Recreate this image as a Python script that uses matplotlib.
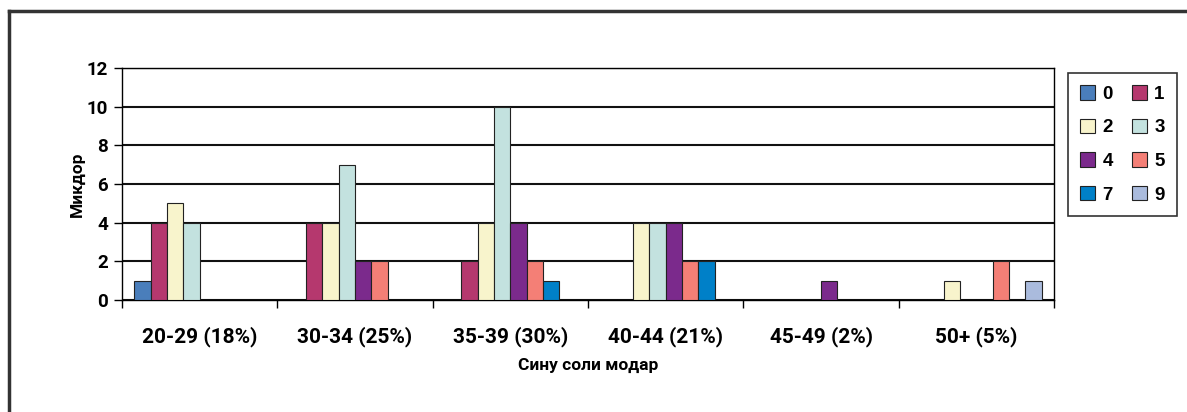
import numpy as np
import matplotlib.pyplot as plt
from matplotlib.lines import Line2D

# Age groups and counts per series (number of children)
groups = ['20-29 (18%)', '30-34 (25%)', '35-39 (30%)', '40-44 (21%)', '45-49 (2%)', '50+ (5%)']
series_names = ['0', '1', '2', '3', '4', '5', '7', '9']
s0 = [1, 0, 0, 0, 0, 0]
s1 = [4, 4, 2, 0, 0, 0]
s2 = [5, 4, 4, 4, 0, 1]
s3 = [4, 7, 10, 4, 0, 0]
s4 = [0, 2, 4, 4, 1, 0]
s5 = [0, 2, 2, 2, 0, 2]
s7 = [0, 0, 1, 2, 0, 0]
s9 = [0, 0, 0, 0, 0, 1]
series = [s0, s1, s2, s3, s4, s5, s7, s9]
colors = ['#4a7ebb', '#b5386e', '#f8f4cc', '#c3e2df', '#7b2a8c', '#f47f76', '#0080c8', '#aabbdd']

font = ['Roboto', 'DejaVu Sans']

fig = plt.figure(figsize=(11.87, 4.12), dpi=100)
ax = fig.add_axes([122 / 1187, 1 - 300 / 412, (1054 - 122) / 1187, (300 - 68) / 412])

n = len(series)
gap = 1.5
w = 1.0 / (n + gap)
x = np.arange(len(groups))
for i, (vals, c) in enumerate(zip(series, colors)):
    pos = x - 0.5 + w * gap / 2 + w * i + w / 2
    ax.bar(pos, vals, width=w, color=c, edgecolor='#222222', linewidth=0.8,
           label=series_names[i], zorder=3)

ax.set_xlim(-0.5, len(groups) - 0.5)
ax.set_ylim(0, 12)
ax.set_yticks(range(0, 13, 2))
ax.yaxis.grid(True, color='#111111', linewidth=1.5, zorder=0)
ax.set_xticks(np.arange(len(groups) + 1) - 0.5, minor=True)
ax.set_xticks(x)
ax.set_xticklabels(groups, fontsize=15, fontweight='bold', family=font)
ax.tick_params(axis='x', which='major', length=0, pad=19)
ax.tick_params(axis='x', which='minor', length=6, width=1, color='black')
ax.tick_params(axis='y', length=6, width=1, pad=4)
for lab in ax.get_yticklabels():
    lab.set_fontsize(13.5)
    lab.set_fontweight('bold')
    lab.set_family(font)
for sp in ax.spines.values():
    sp.set_color('black')
    sp.set_linewidth(1.0)

ax.set_xlabel('Сину соли модар', fontsize=12.5, fontweight='bold', family=font, labelpad=8)
ax.set_ylabel('Микдор', fontsize=12.5, fontweight='bold', family=font, labelpad=1)

# legend in two columns: row-wise order 0 1 / 2 3 / 4 5 / 7 9
handles, labels = ax.get_legend_handles_labels()
order = [0, 2, 4, 6, 1, 3, 5, 7]
leg = fig.legend([handles[i] for i in order], [labels[i] for i in order], ncol=2,
                 loc='upper left', bbox_to_anchor=(1068 / 1187, 1 - 73 / 412),
                 borderaxespad=0, frameon=True, fancybox=False, edgecolor='black',
                 prop={'family': 'Liberation Sans', 'weight': 'bold', 'size': 13.5},
                 handlelength=0.8, handleheight=0.8, handletextpad=0.4,
                 columnspacing=1.0, labelspacing=0.85, borderpad=0.65)
leg.get_frame().set_linewidth(1.2)

# outer chart frame (left and top edges visible)
fig.add_artist(Line2D([9.5 / 1187, 9.5 / 1187], [0, 1 - 10.5 / 412], color='#333333', linewidth=2.5))
fig.add_artist(Line2D([9.5 / 1187, 1], [1 - 10.5 / 412, 1 - 10.5 / 412], color='#333333', linewidth=2.5))

fig.savefig('out.png', dpi=100)
